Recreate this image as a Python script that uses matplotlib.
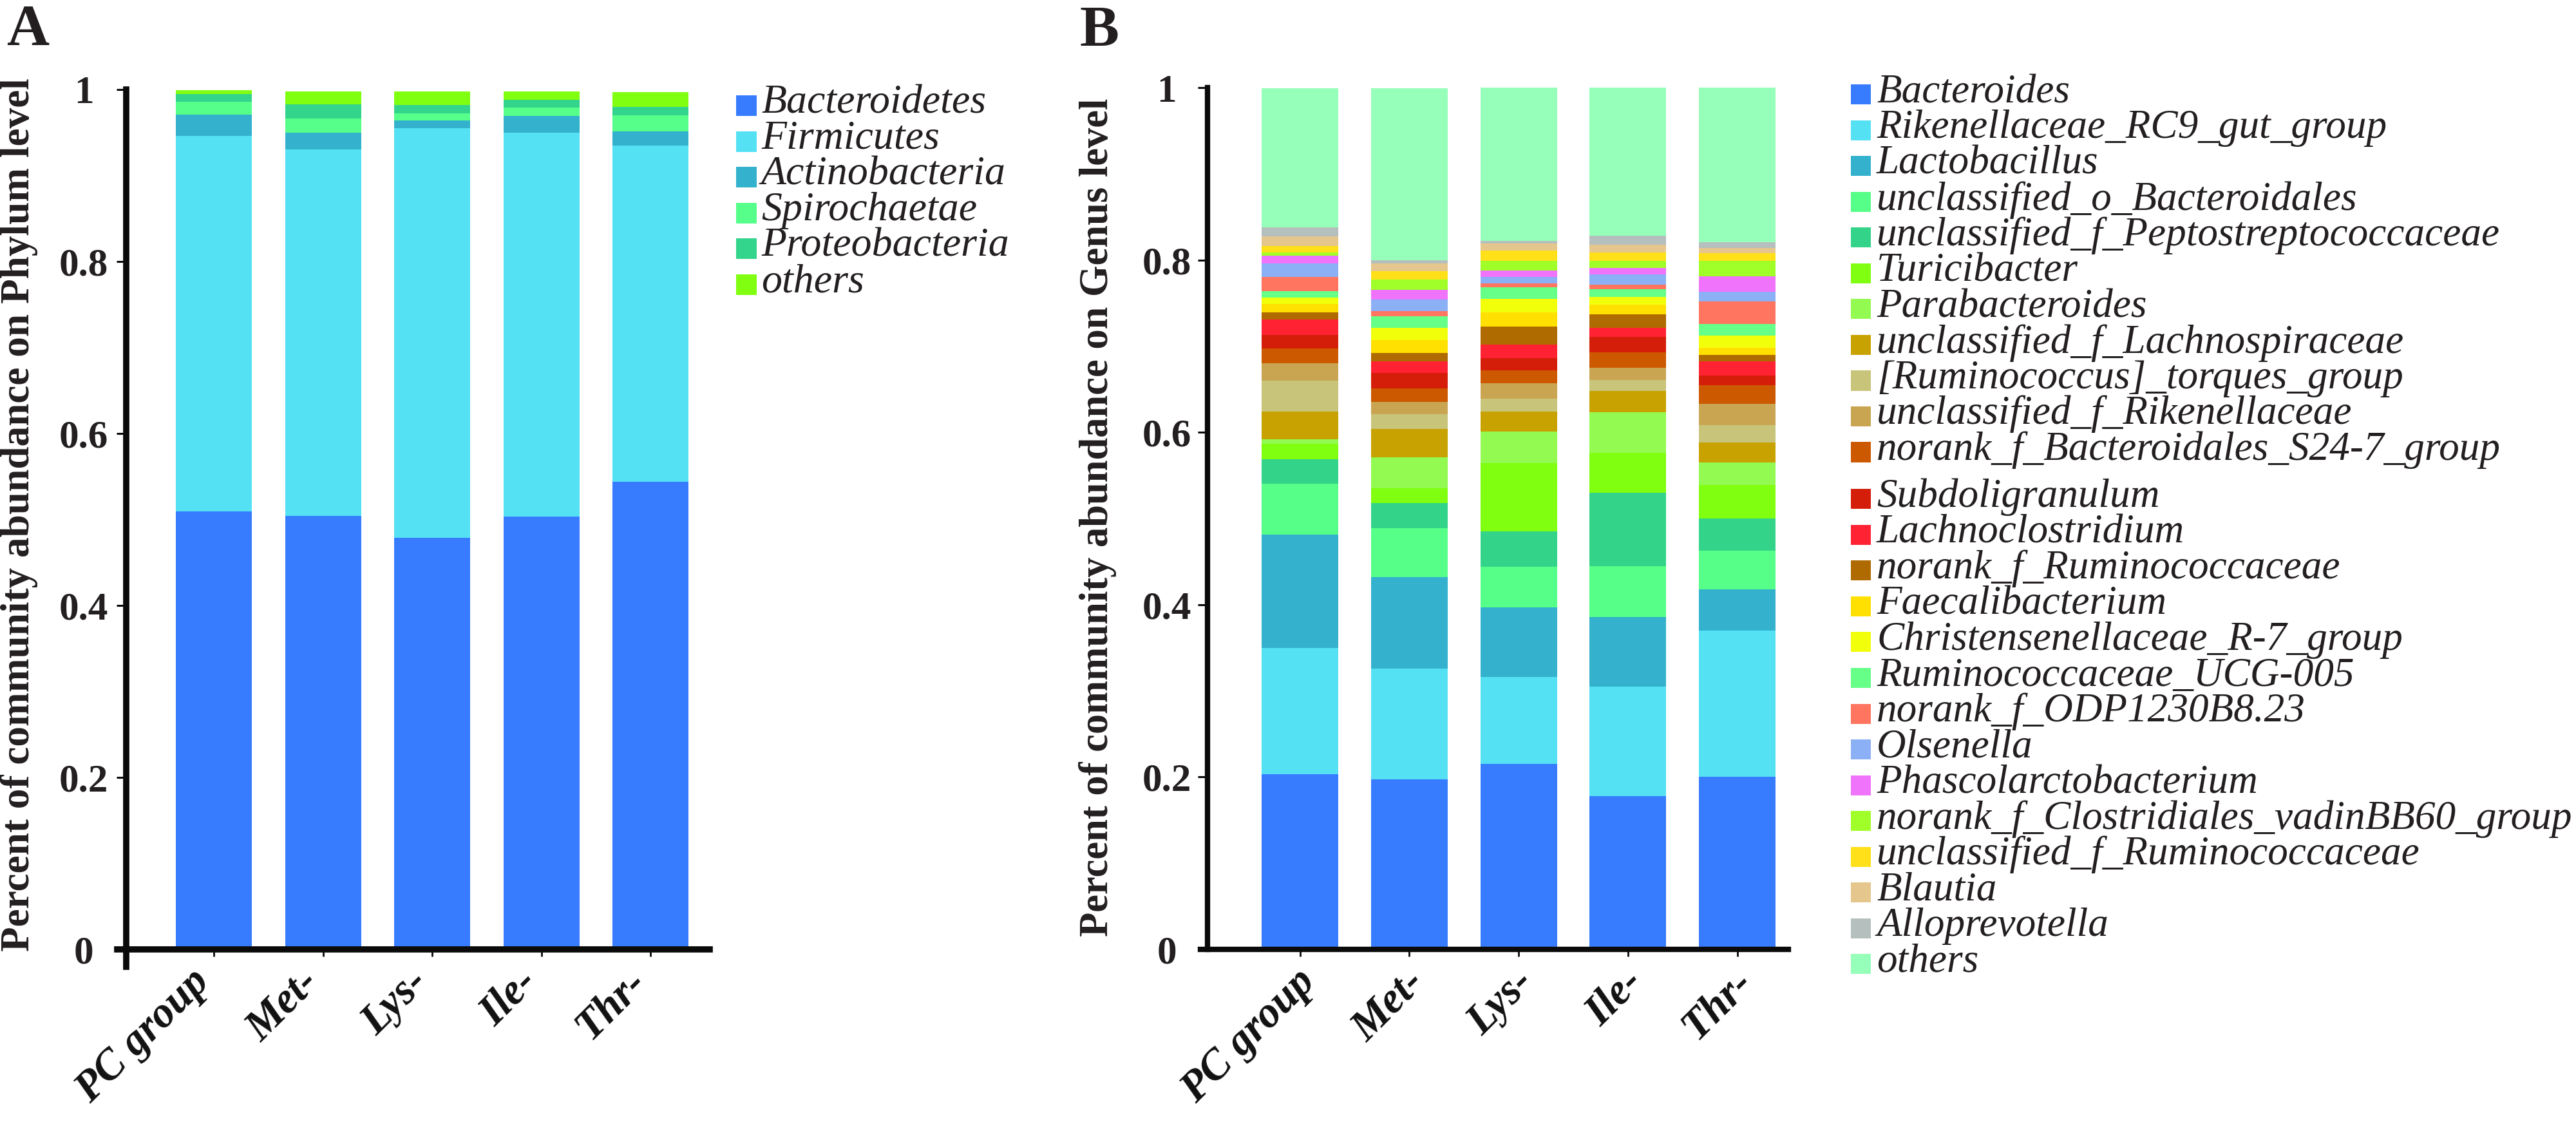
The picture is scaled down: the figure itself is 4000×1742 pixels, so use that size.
import matplotlib
matplotlib.use('Agg')
import matplotlib.pyplot as plt
from matplotlib.patches import Rectangle
from matplotlib.transforms import ScaledTranslation
import numpy as np

# ---------------- data ----------------
groups = ['PC group', 'Met-', 'Lys-', 'Ile-', 'Thr-']
y_ticks = [0, 0.2, 0.4, 0.6, 0.8, 1.0]
y_tick_labels = ['0', '0.2', '0.4', '0.6', '0.8', '1']

# Panel A: phylum level
phylum_labels = ['Bacteroidetes', 'Firmicutes', 'Actinobacteria',
                 'Spirochaetae', 'Proteobacteria', 'others']
phylum_colors = ['#377cff', '#54e1f4', '#33b1cd', '#55ff8a', '#33d48b', '#80ff10']
bacteroidetes = [0.509, 0.504, 0.479, 0.503, 0.544]
firmicutes = [0.437, 0.426, 0.476, 0.447, 0.391]
actinobacteria = [0.025, 0.020, 0.009, 0.019, 0.016]
spirochaetae = [0.015, 0.016, 0.008, 0.010, 0.019]
proteobacteria = [0.009, 0.017, 0.010, 0.009, 0.010]
phylum_others = [0.004, 0.015, 0.016, 0.010, 0.017]
phylum_values = [bacteroidetes, firmicutes, actinobacteria,
                 spirochaetae, proteobacteria, phylum_others]

# Panel B: genus level
genus_labels = ['Bacteroides', 'Rikenellaceae_RC9_gut_group', 'Lactobacillus',
                'unclassified_o_Bacteroidales', 'unclassified_f_Peptostreptococcaceae',
                'Turicibacter', 'Parabacteroides', 'unclassified_f_Lachnospiraceae',
                '[Ruminococcus]_torques_group', 'unclassified_f_Rikenellaceae',
                'norank_f_Bacteroidales_S24-7_group', 'Subdoligranulum',
                'Lachnoclostridium', 'norank_f_Ruminococcaceae', 'Faecalibacterium',
                'Christensenellaceae_R-7_group', 'Ruminococcaceae_UCG-005',
                'norank_f_ODP1230B8.23', 'Olsenella', 'Phascolarctobacterium',
                'norank_f_Clostridiales_vadinBB60_group', 'unclassified_f_Ruminococcaceae',
                'Blautia', 'Alloprevotella', 'others']
genus_colors = ['#377cff', '#54e1f4', '#33b1cd', '#55ff88', '#33d48a',
                '#80ff10', '#92fa50', '#c8a200', '#c8c47a', '#c9a552',
                '#cc5800', '#d41e0a', '#ff2233', '#b06b00', '#ffe000',
                '#f2ff0a', '#66ff88', '#ff7560', '#8cb0f5', '#f073fb',
                '#a0ff28', '#ffe019', '#e5c68c', '#b5bfbd', '#96ffb9']
bacteroides = [0.203, 0.197, 0.215, 0.178, 0.200]
rikenellaceae_rc9 = [0.147, 0.129, 0.101, 0.127, 0.170]
lactobacillus = [0.131, 0.106, 0.081, 0.081, 0.048]
uncl_o_bacteroidales = [0.059, 0.057, 0.047, 0.059, 0.045]
uncl_f_peptostrep = [0.029, 0.029, 0.041, 0.085, 0.037]
turicibacter = [0.018, 0.017, 0.079, 0.046, 0.039]
parabacteroides = [0.005, 0.036, 0.037, 0.047, 0.026]
uncl_f_lachno = [0.032, 0.033, 0.023, 0.025, 0.023]
rum_torques = [0.036, 0.017, 0.015, 0.013, 0.020]
uncl_f_riken = [0.020, 0.014, 0.018, 0.014, 0.025]
norank_s24_7 = [0.017, 0.016, 0.015, 0.018, 0.022]
subdoligranulum = [0.016, 0.018, 0.014, 0.018, 0.011]
lachnoclostridium = [0.018, 0.013, 0.016, 0.010, 0.016]
norank_f_rumino = [0.008, 0.010, 0.021, 0.016, 0.008]
faecalibacterium = [0.010, 0.015, 0.016, 0.011, 0.008]
christensenellaceae = [0.007, 0.014, 0.016, 0.009, 0.014]
rum_ucg005 = [0.008, 0.014, 0.013, 0.009, 0.014]
norank_odp = [0.016, 0.006, 0.005, 0.005, 0.026]
olsenella = [0.016, 0.013, 0.007, 0.012, 0.011]
phascolarcto = [0.009, 0.011, 0.008, 0.008, 0.018]
norank_vadin = [0.004, 0.012, 0.011, 0.008, 0.018]
uncl_f_rumino = [0.007, 0.010, 0.012, 0.010, 0.009]
blautia = [0.011, 0.009, 0.008, 0.009, 0.006]
alloprevotella = [0.011, 0.004, 0.003, 0.010, 0.007]
genus_others = [0.161, 0.199, 0.178, 0.172, 0.181]
genus_values = [bacteroides, rikenellaceae_rc9, lactobacillus, uncl_o_bacteroidales,
                uncl_f_peptostrep, turicibacter, parabacteroides, uncl_f_lachno,
                rum_torques, uncl_f_riken, norank_s24_7, subdoligranulum,
                lachnoclostridium, norank_f_rumino, faecalibacterium,
                christensenellaceae, rum_ucg005, norank_odp, olsenella, phascolarcto,
                norank_vadin, uncl_f_rumino, blautia, alloprevotella, genus_others]

# ---------------- layout helpers ----------------
W, H = 4000, 1742
DPI = 100
TXT = '#231f20'
SERIF = ['Liberation Serif', 'DejaVu Serif']
plt.rcParams['font.family'] = SERIF

fig = plt.figure(figsize=(W / DPI, H / DPI), dpi=DPI)


def fx(px):
    return px / W


def fy(py):
    return 1 - py / H


def stacked_panel(left, right, top, bottom, xlo, xhi, values, colors,
                  bar_w, lw, ext_left, ext_down, label_dx, ylab_pad):
    ax = fig.add_axes([fx(left), fy(bottom), (right - left) / W, (bottom - top) / H])
    x = np.arange(len(groups))
    base = np.zeros(len(groups))
    for vals, col in zip(values, colors):
        vals = np.asarray(vals)
        ax.bar(x, vals, bottom=base, width=bar_w, color=col, edgecolor='none')
        base = base + vals
    ax.set_xlim(xlo, xhi)
    ax.set_ylim(0, 1)
    for s in ['top', 'right']:
        ax.spines[s].set_visible(False)
    for s in ['left', 'bottom']:
        ax.spines[s].set_linewidth(lw)
        ax.spines[s].set_color('#0a0a0a')
    ax.spines['left'].set_bounds(-ext_down, 1.0)
    ax.spines['bottom'].set_bounds(xlo - ext_left, xhi)
    ax.set_yticks(y_ticks, labels=y_tick_labels)
    ax.set_xticks(x, labels=groups)
    ax.tick_params(axis='y', direction='out', length=11, width=2.2, color='#0a0a0a',
                   pad=ylab_pad, labelsize=44, labelcolor=TXT)
    ax.tick_params(axis='x', direction='out', length=8, width=2.0, color='#0a0a0a',
                   pad=6, labelsize=48, labelcolor='#111111')
    for lbl in ax.get_yticklabels():
        lbl.set_ha('center')
        lbl.set_fontweight('bold')
    off = ScaledTranslation(label_dx / DPI, 0, fig.dpi_scale_trans)
    for lbl in ax.get_xticklabels():
        lbl.set_rotation(45)
        lbl.set_ha('right')
        lbl.set_va('top')
        lbl.set_fontweight('bold')
        lbl.set_fontstyle('italic')
        lbl.set_transform(lbl.get_transform() + off)
    return ax


# ---------------- Panel A ----------------
spA = 169.6
cA = 332.0
axA = stacked_panel(196, 1102, 139, 1474, (196 - cA) / spA, (1102 - cA) / spA,
                    phylum_values, phylum_colors, 118 / spA, 7,
                    14 / spA, 0.02, 5, 36.5)

# ---------------- Panel B ----------------
spB = 169.75
cB = 2018.5
axB = stacked_panel(1875, 2777, 136, 1474, (1875 - cB) / spB, (2777 - cB) / spB,
                    genus_values, genus_colors, 119 / spB, 6,
                    11 / spB, 0.0, 36, 34.5)

# ---------------- axis titles and panel letters ----------------
fig.text(fx(0), fy(799), 'Percent of community abundance on Phylum level',
         rotation=90, ha='left', va='center', fontsize=45.5, fontweight='bold', color=TXT)
fig.text(fx(1675), fy(803), 'Percent of community abundance on Genus level',
         rotation=90, ha='left', va='center', fontsize=45, fontweight='bold', color=TXT)
fig.text(fx(10), fy(70), 'A', ha='left', va='baseline', fontsize=66,
         fontweight='bold', color=TXT)
fig.text(fx(1677), fy(72), 'B', ha='left', va='baseline', fontsize=66,
         fontweight='bold', color=TXT)

# ---------------- Legend A ----------------
for i, (lab, col) in enumerate(zip(phylum_labels, phylum_colors)):
    cy = 164 + 55.6 * i
    fig.add_artist(Rectangle((fx(1143), fy(cy + 16)), 32 / W, 32 / H,
                             transform=fig.transFigure, facecolor=col, edgecolor='none'))
    fig.text(fx(1182), fy(cy + 11), lab, ha='left', va='baseline', fontsize=46,
             fontstyle='italic', color=TXT)

# ---------------- Legend B ----------------
for i, (lab, col) in enumerate(zip(genus_labels, genus_colors)):
    cy = 147 + 55.5 * i if i < 11 else 775 + 55.5 * (i - 11)
    fig.add_artist(Rectangle((fx(2874), fy(cy + 15.5)), 31 / W, 31 / H,
                             transform=fig.transFigure, facecolor=col, edgecolor='none'))
    fig.text(fx(2914), fy(cy + 12), lab, ha='left', va='baseline', fontsize=45.5,
             fontstyle='italic', color=TXT)

fig.savefig('out.png', dpi=DPI)
